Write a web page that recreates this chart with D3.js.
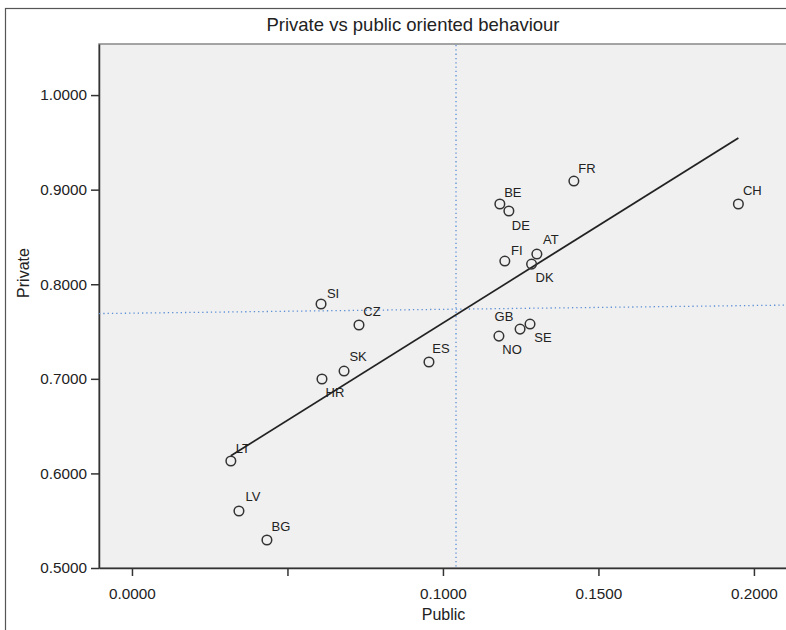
<!DOCTYPE html>
<html lang="en">
<head>
    <meta charset="UTF-8">
    <title>Private vs public oriented behaviour</title>
    <style>
        body { margin: 0; background: #fff; }
        text { font-family: "Liberation Sans", Arial, sans-serif; fill: #222; }
    </style>
</head>
<body>
<script src="https://d3js.org/d3.v7.min.js"></script>
<script>
    // country codes and values (Public on x, Private on y)
    const countries = ["FR", "CH", "BE", "DE", "AT", "FI", "DK", "GB", "NO", "SE",
                       "SI", "CZ", "SK", "HR", "ES", "LT", "LV", "BG"];
    const publicVals = [0.1421, 0.1950, 0.1183, 0.1212, 0.1302, 0.1199, 0.1285, 0.1180, 0.1248, 0.1280,
                        0.0608, 0.0730, 0.0682, 0.0611, 0.0955, 0.0318, 0.0344, 0.0434];
    const privateVals = [0.9091, 0.8848, 0.8848, 0.8774, 0.8319, 0.8245, 0.8213, 0.7452, 0.7526, 0.7579,
                         0.7791, 0.7569, 0.7082, 0.6998, 0.7178, 0.6131, 0.5603, 0.5296];

    const xTicks = [0, 0.05, 0.10, 0.15, 0.20];
    const xTickLabels = ["0.0000", "", "0.1000", "0.1500", "0.2000"];
    const yTicks = [0.5, 0.6, 0.7, 0.8, 0.9, 1.0];

    // fit line (intercept, slope) and reference lines
    const fitLine = [0.5532, 2.059];
    const refX = 0.1042;
    const refY = [0.7690, 0.7780];

    // label placement around the markers (px)
    const labelOffset = {
        FR: [13, -13], CH: [14, -14], BE: [13, -12], DE: [12, 14], AT: [14, -15],
        FI: [12, -11], DK: [13, 13], GB: [5, -20], NO: [-8, 20], SE: [13, 13],
        SI: [12, -11], CZ: [13, -14], SK: [14, -15], HR: [13, 13], ES: [12, -13],
        LT: [12, -13], LV: [14, -14], BG: [14, -14]
    };

    const width = 786, height = 630;
    const pLeft = 99, pTop = 44, pRight = 790, pBottom = 568;

    const svg = d3.select("body").append("svg")
        .attr("width", width)
        .attr("height", height);

    // outer frame
    svg.append("rect")
        .attr("x", 5.5).attr("y", 8.5)
        .attr("width", 830).attr("height", 660)
        .attr("fill", "#fff")
        .attr("stroke", "#555")
        .attr("stroke-width", 1.2);

    const x = d3.scaleLinear().domain([-0.0106, 0.2116]).range([pLeft, pRight]);
    const y = d3.scaleLinear().domain([0.5, 1.054]).range([pBottom, pTop]);

    // plot background
    svg.append("rect")
        .attr("x", pLeft).attr("y", pTop)
        .attr("width", pRight - pLeft).attr("height", pBottom - pTop)
        .attr("fill", "#f0f0f0")
        .attr("stroke", "#888")
        .attr("stroke-width", 1.5);

    // title
    svg.append("text")
        .attr("x", 413).attr("y", 31)
        .attr("text-anchor", "middle")
        .style("font-size", "18.5px")
        .text("Private vs public oriented behaviour");

    // axes
    const xAxis = svg.append("g")
        .attr("transform", `translate(0,${pBottom})`)
        .call(d3.axisBottom(x).tickValues(xTicks)
            .tickFormat((d, i) => xTickLabels[i])
            .tickSize(8).tickSizeOuter(0).tickPadding(8));
    const yAxis = svg.append("g")
        .attr("transform", `translate(${pLeft},0)`)
        .call(d3.axisLeft(y).tickValues(yTicks)
            .tickFormat(d3.format(".4f"))
            .tickSize(8).tickSizeOuter(0).tickPadding(4));

    [xAxis, yAxis].forEach(a => {
        a.select(".domain").attr("stroke", "#333").attr("stroke-width", 1.5);
        a.selectAll(".tick line").attr("stroke", "#333").attr("stroke-width", 1.5);
        a.selectAll(".tick text")
            .style("font-size", "15.3px")
            .style("font-family", '"Liberation Sans", Arial, sans-serif')
            .attr("fill", "#222");
    });
    xAxis.selectAll(".tick text").attr("dy", "1em");

    // axis titles
    svg.append("text")
        .attr("x", (pLeft + pRight) / 2 - 1).attr("y", 620)
        .attr("text-anchor", "middle")
        .style("font-size", "16px")
        .text("Public");
    svg.append("text")
        .attr("transform", "translate(29,273) rotate(-90)")
        .attr("text-anchor", "middle")
        .style("font-size", "16px")
        .text("Private");

    // reference lines
    svg.append("line")
        .attr("x1", x(refX)).attr("x2", x(refX))
        .attr("y1", pTop + 1).attr("y2", pBottom)
        .attr("stroke", "#5b8fd6")
        .attr("stroke-width", 1.3)
        .attr("stroke-dasharray", "1.3,3");
    svg.append("line")
        .attr("x1", pLeft).attr("x2", pRight)
        .attr("y1", y(refY[0])).attr("y2", y(refY[1]))
        .attr("stroke", "#5b8fd6")
        .attr("stroke-width", 1.3)
        .attr("stroke-dasharray", "1.3,3");

    // fit line across the data range
    const xExt = d3.extent(publicVals);
    svg.append("line")
        .attr("x1", x(xExt[0])).attr("y1", y(fitLine[0] + fitLine[1] * xExt[0]))
        .attr("x2", x(xExt[1])).attr("y2", y(fitLine[0] + fitLine[1] * xExt[1]))
        .attr("stroke", "#222")
        .attr("stroke-width", 1.8);

    const pts = countries.map((c, i) => ({ c, px: publicVals[i], pv: privateVals[i] }));

    // markers
    svg.selectAll(".pt")
        .data(pts)
        .enter().append("circle")
        .attr("class", "pt")
        .attr("cx", d => x(d.px))
        .attr("cy", d => y(d.pv))
        .attr("r", 4.8)
        .attr("fill", "none")
        .attr("stroke", "#333")
        .attr("stroke-width", 1.5);

    // labels
    svg.selectAll(".lbl")
        .data(pts)
        .enter().append("text")
        .attr("class", "lbl")
        .attr("x", d => x(d.px) + labelOffset[d.c][0])
        .attr("y", d => y(d.pv) + labelOffset[d.c][1])
        .attr("text-anchor", "middle")
        .attr("dominant-baseline", "central")
        .style("font-size", "13px")
        .text(d => d.c);
</script>
</body>
</html>
